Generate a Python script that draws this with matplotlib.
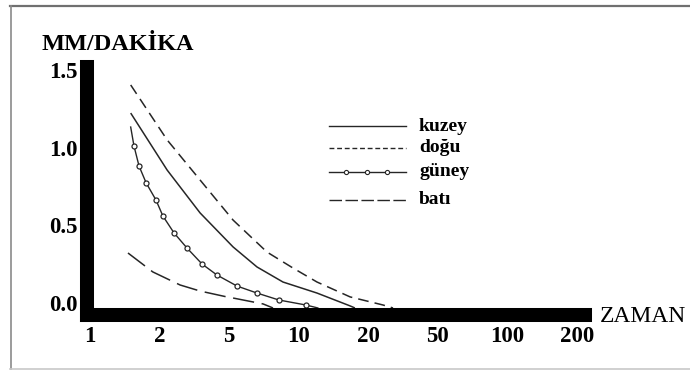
import numpy as np
import matplotlib
matplotlib.use("Agg")
import matplotlib.pyplot as plt
from matplotlib.lines import Line2D

# ---- data -------------------------------------------------------------
tick_values = [1, 2, 5, 10, 20, 50, 100, 200]
tick_labels = ["1", "2", "5", "10", "20", "50", "100", "200"]
y_ticks = [0.0, 0.5, 1.0, 1.5]
y_tick_labels = ["0.0", "0.5", "1.0", "1.5"]

series_names = ["kuzey", "doğu", "güney", "batı"]

kuzey_t = [1.50, 2.21, 3.41, 5.20, 6.60, 8.55, 12.0, 16.7, 17.5]
kuzey_v = [1.223, 0.856, 0.580, 0.361, 0.232, 0.135, 0.064, -0.019, -0.032]

dogu_t = [1.50, 2.21, 3.41, 5.20, 7.29, 9.45, 12.0, 16.7, 24.3, 27.7]
dogu_v = [1.404, 1.050, 0.792, 0.534, 0.328, 0.225, 0.135, 0.039, -0.013, -0.032]

guney_t = [1.50, 1.55, 1.63, 1.75, 1.93, 2.09, 2.42, 2.87, 3.50, 4.26,
           5.41, 6.60, 8.22, 10.75, 12.1]
guney_v = [1.133, 1.011, 0.882, 0.773, 0.663, 0.560, 0.451, 0.354, 0.251,
           0.180, 0.109, 0.064, 0.019, -0.013, -0.032]

bati_t = [1.46, 1.87, 2.62, 3.41, 4.86, 5.20, 7.01, 7.74]
bati_v = [0.322, 0.200, 0.116, 0.077, 0.039, 0.032, -0.006, -0.032]

# ---- pseudo-log axis: 1-2-5 steps equally spaced ------------------------
_logs = np.log10(tick_values)
_idx = np.arange(len(tick_values), dtype=float)


def fwd(x):
    x = np.clip(np.asarray(x, dtype=float), 1e-3, None)
    lx = np.log10(x)
    out = np.interp(lx, _logs, _idx)
    # linear extension outside the tick range
    lo = lx < _logs[0]
    hi = lx > _logs[-1]
    out = np.where(lo, (lx - _logs[0]) / (_logs[1] - _logs[0]), out)
    out = np.where(hi, _idx[-1] + (lx - _logs[-1]) / (_logs[-1] - _logs[-2]), out)
    return out


def inv(p):
    p = np.asarray(p, dtype=float)
    out = 10 ** np.interp(p, _idx, _logs)
    lo = p < 0
    hi = p > _idx[-1]
    out = np.where(lo, 10 ** (_logs[0] + p * (_logs[1] - _logs[0])), out)
    out = np.where(hi, 10 ** (_logs[-1] + (p - _idx[-1]) * (_logs[-1] - _logs[-2])), out)
    return out


W, H = 690, 370
fig = plt.figure(figsize=(W / 100, H / 100), dpi=100)
fig.patch.set_facecolor("white")

SERIF = ["Liberation Serif", "DejaVu Serif"]
INK = "#262626"

# panel frame
fig.add_artist(Line2D([10 / W, 1.0], [1 - 6 / H, 1 - 6 / H], transform=fig.transFigure,
                      color="#707070", lw=1.6))
fig.add_artist(Line2D([10.5 / W, 10.5 / W], [1 - 6 / H, 1 - 368.5 / H], transform=fig.transFigure,
                      color="#8a8a8a", lw=1.2))
fig.add_artist(Line2D([10 / W, 1.0], [1 - 368.5 / H, 1 - 368.5 / H], transform=fig.transFigure,
                      color="#c8c8c8", lw=1.2))

ax = fig.add_axes([87 / W, 1 - 315 / H, (585 - 87) / W, (315 - 67) / H])
ax.set_xscale("function", functions=(fwd, inv))
ax.set_xlim(inv(-0.043), inv(7.115))
ax.set_ylim(-0.0773, 1.5196)

# thick black axes bars
for side in ("top", "right"):
    ax.spines[side].set_visible(False)
for side in ("left", "bottom"):
    ax.spines[side].set_linewidth(10.1)
    ax.spines[side].set_color("black")
    ax.spines[side].set_capstyle("projecting")
    ax.spines[side].set_zorder(5)

ax.set_xticks(tick_values)
ax.set_xticklabels(tick_labels)
ax.xaxis.set_minor_locator(matplotlib.ticker.NullLocator())
ax.set_yticks(y_ticks)
ax.set_yticklabels(y_tick_labels)
ax.tick_params(axis="both", length=0)
ax.tick_params(axis="x", pad=8)
ax.tick_params(axis="y", pad=7)
for lab in ax.get_xticklabels() + ax.get_yticklabels():
    lab.set_fontfamily(SERIF)
    lab.set_fontweight("bold")
    lab.set_fontsize(16.5)

# curves
lw = 1.1
ax.plot(kuzey_t, kuzey_v, color=INK, lw=lw, solid_capstyle="butt", zorder=3)
ax.plot(dogu_t, dogu_v, color=INK, lw=lw, dashes=(7, 4), zorder=3)
ax.plot(guney_t, guney_v, color=INK, lw=1.0, zorder=3,
        marker="o", markersize=3.6, markerfacecolor="white",
        markeredgecolor=INK, markeredgewidth=0.9, markevery=slice(1, -1))
ax.plot(bati_t, bati_v, color=INK, lw=lw, dashes=(14, 5), zorder=3)

# axis titles
fig.text(42 / W, 1 - 45 / H, "MM/DAKİKA", family=SERIF, fontweight="bold",
         fontsize=17.5, ha="left", va="center")
fig.text(600 / W, 1 - 317 / H, "ZAMAN", family=SERIF, fontsize=17,
         ha="left", va="center")

# key
key_rows = [126, 148, 172, 200]
key_styles = [dict(), dict(dashes=(3.5, 2)), dict(), dict(dashes=(9, 2.5))]
for name, row, sty in zip(series_names, key_rows, key_styles):
    yk = 1 - row / H
    fig.add_artist(Line2D([329 / W, 406 / W], [yk, yk], transform=fig.transFigure,
                          color=INK, lw=1.0, **sty))
    fig.text(419 / W, yk, name, family=SERIF, fontweight="bold", fontsize=14,
             ha="left", va="center")
for xm in (346, 367, 387):
    fig.add_artist(Line2D([xm / W], [1 - 172 / H], transform=fig.transFigure,
                          marker="o", markersize=3, markerfacecolor="white",
                          markeredgecolor=INK, markeredgewidth=0.8, lw=0))

fig.savefig("out.png", dpi=100, facecolor="white")
